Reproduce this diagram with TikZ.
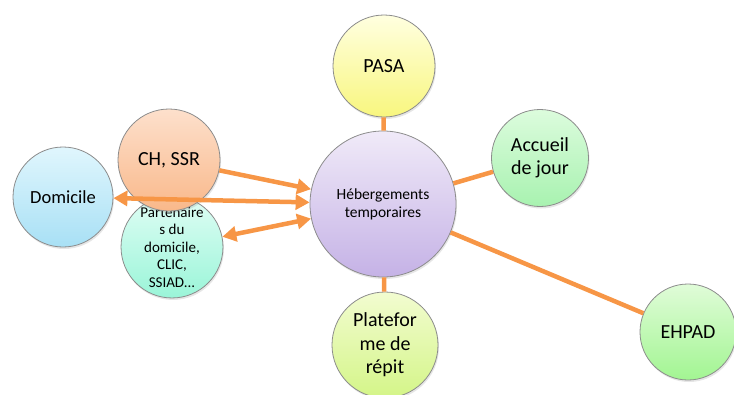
\documentclass[tikz,border=0pt]{standalone}
\usepackage{fontspec}
\setmainfont{Carlito}
\usetikzlibrary{arrows.meta,shadows}

\definecolor{orangelien}{HTML}{F79646}
\tikzset{
  bulle/.style={circle,draw=black!45,line width=0.8pt,inner sep=0pt,align=center,
    minimum size=#1,drop shadow={opacity=0.2,shadow xshift=1pt,shadow yshift=-2pt}},
  lien/.style={draw=orangelien,line width=4.5pt},
  fleche/.style={lien,-{Triangle[length=14pt,width=15pt]}},
  double fleche/.style={lien,{Triangle[length=14pt,width=15pt]}-{Triangle[length=14pt,width=15pt]}}
}
\definecolor{hebH}{HTML}{F0EAF8}\definecolor{hebB}{HTML}{C5B2E6}
\definecolor{pasaH}{HTML}{FFFFE0}\definecolor{pasaB}{HTML}{F8F67E}
\definecolor{accH}{HTML}{DCFCDD}\definecolor{accB}{HTML}{A8F2B0}
\definecolor{repH}{HTML}{F2FCD0}\definecolor{repB}{HTML}{D4F588}
\definecolor{ehpH}{HTML}{E0FCD8}\definecolor{ehpB}{HTML}{A2F592}
\definecolor{domH}{HTML}{E0F6FD}\definecolor{domB}{HTML}{A8E0F5}
\definecolor{parH}{HTML}{E0FDF5}\definecolor{parB}{HTML}{9AF5D8}
\definecolor{chH}{HTML}{FDE0CC}\definecolor{chB}{HTML}{F9B88A}

\begin{document}
\begin{tikzpicture}[x=1pt,y=-1pt]
        \useasboundingbox (0,0) rectangle (734,394);
        % centre
        \node[bulle=146pt,top color=hebH,bottom color=hebB,font=\fontsize{15.5}{18}\selectfont] (heberg) at (383,204) {Hébergements\\temporaires};
        % structures autour
        \node[bulle=102pt,top color=pasaH,bottom color=pasaB,font=\fontsize{20}{24}\selectfont] (pasa) at (384,66) {PASA};
        \node[bulle=97pt,top color=accH,bottom color=accB,font=\fontsize{20}{23}\selectfont] (accueil) at (540,158) {Accueil\\de jour};
        \node[bulle=106pt,top color=repH,bottom color=repB,font=\fontsize{20}{23.5}\selectfont] (repit) at (385,345) {Platefor\\me de\\répit};
        \node[bulle=96pt,top color=ehpH,bottom color=ehpB,font=\fontsize{20}{24}\selectfont] (ehpad) at (688,332) {EHPAD};
        \node[bulle=100pt,top color=domH,bottom color=domB,font=\fontsize{18.5}{22}\selectfont] (domicile) at (63,197) {Domicile};
        \node[bulle=100pt,top color=parH,bottom color=parB,font=\fontsize{15}{17.5}\selectfont] (parten) at (172,247) {Partenaire\\s du\\domicile,\\CLIC,\\SSIAD...};
        \node[bulle=102pt,top color=chH,bottom color=chB,font=\fontsize{20}{24}\selectfont] (ch) at (169,160) {CH, SSR};
        % liens
        \draw[lien] (heberg) -- (pasa);
        \draw[lien] (heberg) -- (accueil);
        \draw[lien] (heberg) -- (repit);
        \draw[lien] (heberg) -- (ehpad);
        \draw[fleche] (ch) -- (heberg);
        \draw[double fleche] (domicile) -- (heberg);
        \draw[double fleche] (parten) -- (heberg);
    \end{tikzpicture}
\end{document}
